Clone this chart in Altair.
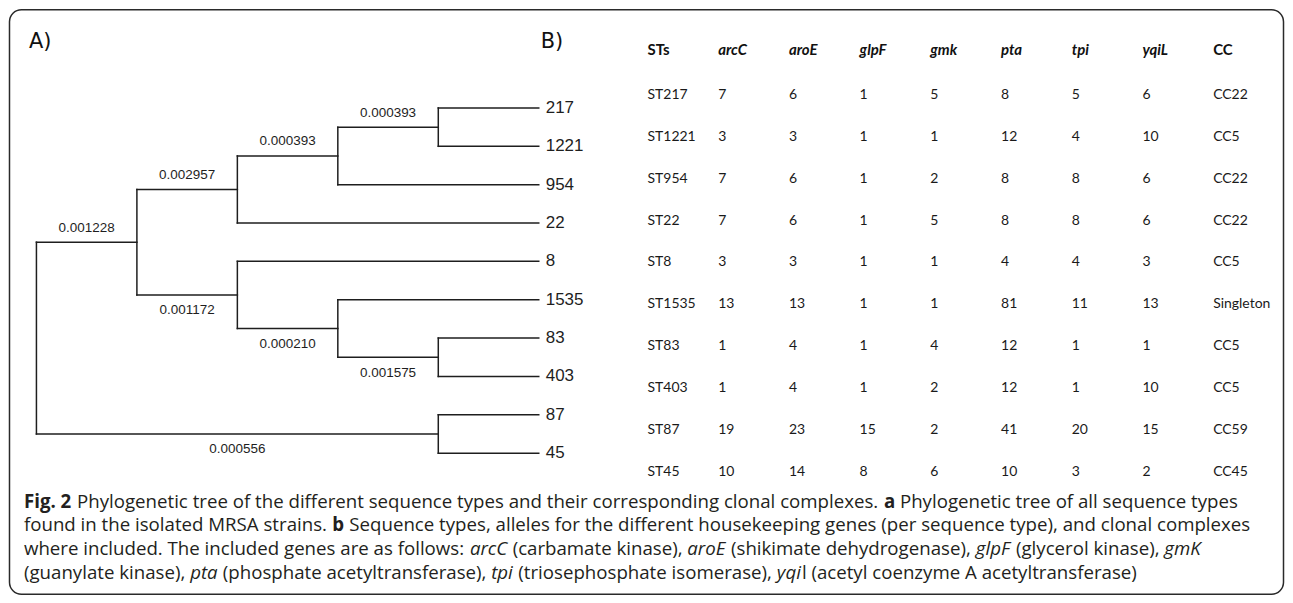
import altair as alt
import pandas as pd

# ---------------- data ----------------
leaves = ["217", "1221", "954", "22", "8", "1535", "83", "403", "87", "45"]
children = {
    "R": ["G", "H"],
    "G": ["C", "F"],
    "C": ["B", "22"],
    "B": ["A", "954"],
    "A": ["217", "1221"],
    "F": ["8", "E"],
    "E": ["1535", "D"],
    "D": ["83", "403"],
    "H": ["87", "45"],
}
branch_length = {
    "G": "0.001228", "C": "0.002957", "B": "0.000393", "A": "0.000393",
    "F": "0.001172", "E": "0.000210", "D": "0.001575", "H": "0.000556",
}

columns = ["STs", "arcC", "aroE", "glpF", "gmk", "pta", "tpi", "yqiL", "CC"]
sts = ["ST217", "ST1221", "ST954", "ST22", "ST8", "ST1535", "ST83", "ST403", "ST87", "ST45"]
arcC = [7, 3, 7, 7, 3, 13, 1, 1, 19, 10]
aroE = [6, 3, 6, 6, 3, 13, 4, 4, 23, 14]
glpF = [1, 1, 1, 1, 1, 1, 1, 1, 15, 8]
gmk = [5, 1, 2, 5, 1, 1, 4, 2, 2, 6]
pta = [8, 12, 8, 8, 4, 81, 12, 12, 41, 10]
tpi = [5, 4, 8, 8, 4, 11, 1, 1, 20, 3]
yqiL = [6, 10, 6, 6, 3, 13, 1, 10, 15, 2]
cc = ["CC22", "CC5", "CC22", "CC22", "CC5", "Singleton", "CC5", "CC5", "CC59", "CC45"]

caption_lines = [
    [("Fig. 2", "bold"),
     (" Phylogenetic tree of the different sequence types and their corresponding clonal complexes. ", "regular"),
     ("a", "bold"),
     (" Phylogenetic tree of all sequence types", "regular")],
    [("found in the isolated MRSA strains. ", "regular"),
     ("b", "bold"),
     (" Sequence types, alleles for the different housekeeping genes (per sequence type), and clonal complexes", "regular")],
    [("where included. The included genes are as follows: ", "regular"),
     ("arcC", "italic"), (" (carbamate kinase), ", "regular"),
     ("aroE", "italic"), (" (shikimate dehydrogenase), ", "regular"),
     ("glpF", "italic"), (" (glycerol kinase), ", "regular"),
     ("gmK", "italic")],
    [("(guanylate kinase), ", "regular"),
     ("pta", "italic"), (" (phosphate acetyltransferase), ", "regular"),
     ("tpi", "italic"), (" (triosephosphate isomerase), ", "regular"),
     ("yqi", "italic"), ("l (acetyl coenzyme A acetyltransferase)", "regular")],
]

# ---------------- layout helpers ----------------
W, H = 1280, 588

height = {}


def get_h(n):
    if n not in height:
        height[n] = 0 if n not in children else 1 + max(get_h(c) for c in children[n])
    return height[n]


get_h("R")
max_h = height["R"]
depth = {n: max_h - h for n, h in height.items()}

ypos = {l: float(i) for i, l in enumerate(leaves)}


def get_y(n):
    if n not in ypos:
        ys = [get_y(c) for c in children[n]]
        ypos[n] = sum(ys) / len(ys)
    return ypos[n]


get_y("R")

segs = []
for n, kids in children.items():
    segs.append(dict(x=depth[n], x2=depth[n], y=ypos[kids[0]], y2=ypos[kids[-1]]))
    for c in kids:
        segs.append(dict(x=depth[n], x2=depth[c], y=ypos[c], y2=ypos[c]))
seg_df = pd.DataFrame(segs)

parent = {c: n for n, kids in children.items() for c in kids}
lab_rows = []
for c, txt in branch_length.items():
    p = parent[c]
    lab_rows.append(dict(x=(depth[p] + depth[c]) / 2, y=ypos[c], text=txt,
                         side="above" if children[p][0] == c else "below"))
lab_df = pd.DataFrame(lab_rows)
leaf_df = pd.DataFrame(dict(x=[depth[l] for l in leaves], y=[ypos[l] for l in leaves], text=leaves))

tree_x = alt.Scale(domain=[0, max_h], range=[28.5, 532])
tree_y = alt.Scale(domain=[0, len(leaves) - 1], range=[99.5, 445.5])

NARROW = "Liberation Sans, Arial, sans-serif"
INK = "#1e1e1e"

tree_lines = alt.Chart(seg_df).mark_rule(color=INK, strokeWidth=1.5, strokeCap="square").encode(
    x=alt.X("x:Q", scale=tree_x, axis=None), x2="x2:Q",
    y=alt.Y("y:Q", scale=tree_y, axis=None), y2="y2:Q")

leaf_text = alt.Chart(leaf_df).mark_text(font=NARROW, fontSize=17, align="left", baseline="middle",
                                         dx=7, color=INK).encode(
    x=alt.X("x:Q", scale=tree_x, axis=None),
    y=alt.Y("y:Q", scale=tree_y, axis=None), text="text:N")

above = alt.Chart(lab_df[lab_df.side == "above"]).mark_text(font=NARROW, fontSize=13.5, baseline="middle",
                                                            dy=-14.5, color=INK).encode(
    x=alt.X("x:Q", scale=tree_x, axis=None),
    y=alt.Y("y:Q", scale=tree_y, axis=None), text="text:N")
below = alt.Chart(lab_df[lab_df.side == "below"]).mark_text(font=NARROW, fontSize=13.5, baseline="middle",
                                                            dy=15.5, color=INK).encode(
    x=alt.X("x:Q", scale=tree_x, axis=None),
    y=alt.Y("y:Q", scale=tree_y, axis=None), text="text:N")

# ---------------- table ----------------
body_cols = [sts, arcC, aroE, glpF, gmk, pta, tpi, yqiL, cc]
body = []
for ci, col in enumerate(body_cols):
    for ri, v in enumerate(col):
        body.append(dict(col=ci, row=ri, text=str(v)))
body_df = pd.DataFrame(body)
head_df = pd.DataFrame(dict(col=list(range(len(columns))), row=[-1] * len(columns), text=columns,
                            kind=["plain"] + ["gene"] * 7 + ["plain"]))

tab_x = alt.Scale(domain=[0, len(columns) - 1], range=[641, 1208])
tab_y = alt.Scale(domain=[0, len(sts) - 1], range=[86.5, 464])
TFONT = "Lato, Carlito, Calibri, sans-serif"

body_text = alt.Chart(body_df).mark_text(font=TFONT, fontSize=14, align="left", baseline="middle",
                                         color="#1a1a1a").encode(
    x=alt.X("col:Q", scale=tab_x, axis=None), y=alt.Y("row:Q", scale=tab_y, axis=None), text="text:N")
head_plain = alt.Chart(head_df[head_df.kind == "plain"]).mark_text(
    font=TFONT, fontSize=15, fontWeight="bold", align="left", baseline="middle", dy=-3,
    color="#111").encode(
    x=alt.X("col:Q", scale=tab_x, axis=None), y=alt.Y("row:Q", scale=tab_y, axis=None), text="text:N")
head_gene = alt.Chart(head_df[head_df.kind == "gene"]).mark_text(
    font=TFONT, fontSize=15, fontWeight="bold", fontStyle="italic", align="left", baseline="middle",
    dy=-3, color="#111").encode(
    x=alt.X("col:Q", scale=tab_x, axis=None), y=alt.Y("row:Q", scale=tab_y, axis=None), text="text:N")

# ---------------- caption ----------------
OS_W = {' ': 532, '.': 545, ',': 502, '(': 608, ')': 608, ':': 545, '-': 659}
OS_W.update({d: 1171 for d in "0123456789"})
OS_W.update(dict(zip("abcdefghijklmnopqrstuvwxyz",
                     [1139, 1255, 975, 1255, 1149, 694, 1122, 1257, 518, 518, 1075, 518, 1905,
                      1257, 1237, 1255, 1255, 836, 977, 723, 1257, 1026, 1593, 1073, 1028, 977])))
OS_W.update(dict(zip("ABCDEFGHIJKLMNOPQRSTUVWXYZ",
                     [1296, 1327, 1292, 1493, 1139, 1057, 1491, 1511, 571, 547, 1257, 1073, 1849,
                      1556, 1599, 1239, 1599, 1280, 1112, 1145, 1499, 1241, 1894, 1204, 1178, 1167])))
STYLE_F = {"regular": 1.0, "bold": 1.07, "italic": 0.98}


def em(text, style):
    return sum(OS_W.get(ch, 1100) for ch in text) / 2048.0 * STYLE_F[style]


CAP_X0 = 16
CAP_W = 1217
cap_size = CAP_W / sum(em(t, s) for t, s in caption_lines[0])
cap_base = [500, 524, 548, 572]
cap_rows = []
for li, line in enumerate(caption_lines):
    x = CAP_X0
    for t, s in line:
        lead = len(t) - len(t.lstrip(" "))
        cap_rows.append(dict(text=t.strip(" "), x=x + em(t[:lead], s) * cap_size, y=cap_base[li], style=s))
        x += em(t, s) * cap_size
cap_df = pd.DataFrame(cap_rows)
CFONT = "Open Sans, Noto Sans, sans-serif"


def cap_layer(style, **kw):
    return alt.Chart(cap_df[cap_df["style"] == style]).mark_text(
        font=CFONT, fontSize=cap_size, align="left", baseline="alphabetic", color="#231f20", **kw).encode(
        x=alt.X("x:Q", scale=None), y=alt.Y("y:Q", scale=None), text="text:N")


cap_reg = cap_layer("regular")
cap_bold = cap_layer("bold", fontWeight="bold")
cap_it = cap_layer("italic", fontStyle="italic")

# ---------------- frame & panel labels ----------------
one = pd.DataFrame({"a": ["A)"], "b": ["B)"]})
frame = alt.Chart(one).mark_rect(filled=False, stroke="#2a2a2a", strokeWidth=1.5, cornerRadius=12).encode(
    x=alt.value(1.5), x2=alt.value(W - 1.5), y=alt.value(1), y2=alt.value(H - 1))
panel_a = alt.Chart(one).mark_text(font="DejaVu Sans, Verdana, sans-serif", fontSize=21, align="left",
                                   baseline="alphabetic", color="#111").encode(
    x=alt.value(21), y=alt.value(39), text="a:N")
panel_b = alt.Chart(one).mark_text(font="DejaVu Sans, Verdana, sans-serif", fontSize=21, align="left",
                                   baseline="alphabetic", color="#111").encode(
    x=alt.value(534), y=alt.value(39), text="b:N")

chart = alt.layer(
    frame, panel_a, panel_b,
    tree_lines, leaf_text, above, below,
    body_text, head_plain, head_gene,
    cap_reg, cap_bold, cap_it,
).resolve_scale(x="independent", y="independent").properties(
    width=W, height=H, padding=0, background="white",
    autosize=alt.AutoSizeParams(type="fit", contains="padding"),
).configure_view(stroke="transparent")

chart.save("out.html", embed_options={"renderer": "svg", "actions": False})
